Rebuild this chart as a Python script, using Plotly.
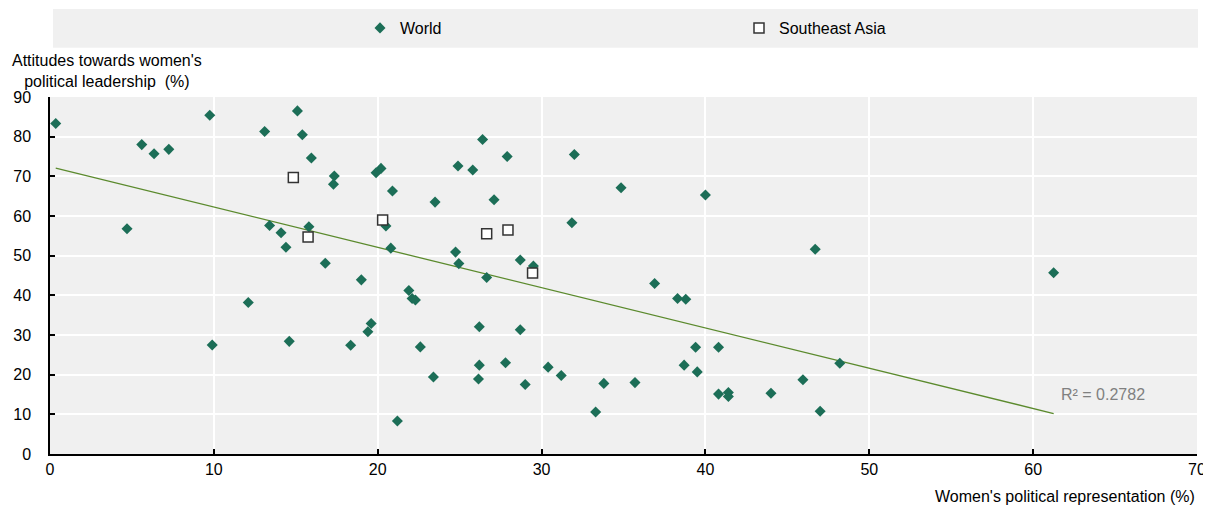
import numpy as np
import plotly.graph_objects as go

world_x = [0.35, 4.7, 5.6, 6.35, 7.25, 9.75, 9.9, 12.1, 13.1, 13.4, 14.1, 14.4, 14.6, 15.1, 15.4,
           15.8, 15.95, 16.8, 17.35, 17.3, 18.35, 19.0, 19.4, 19.6, 19.9, 20.2, 20.5, 20.8, 20.9,
           21.2, 21.9, 22.1, 22.3, 22.6, 23.4, 23.5, 24.75, 24.95, 24.9, 25.8, 26.2, 26.2, 26.15,
           26.4, 26.65, 27.1, 27.8, 27.9, 28.7, 28.7, 29.0, 29.5, 30.4, 31.2, 31.85, 32.0, 33.3,
           33.8, 34.85, 35.7, 36.9, 38.3, 38.8, 38.7, 39.4, 39.5, 40.0, 40.8, 40.8, 41.4, 41.4,
           44.0, 45.95, 46.7, 47.0, 48.2, 61.25]
world_y = [83.3, 56.8, 78.0, 75.7, 76.8, 85.4, 27.5, 38.2, 81.3, 57.6, 55.8, 52.1, 28.4, 86.5, 80.5,
           57.3, 74.6, 48.1, 70.1, 68.0, 27.4, 43.9, 30.8, 32.9, 70.9, 72.0, 57.5, 51.9, 66.3,
           8.3, 41.2, 39.2, 38.8, 27.0, 19.4, 63.5, 50.9, 48.0, 72.6, 71.6, 32.1, 22.4, 18.9,
           79.3, 44.5, 64.1, 23.0, 75.0, 48.9, 31.3, 17.5, 47.4, 21.9, 19.8, 58.3, 75.5, 10.6,
           17.8, 67.1, 18.0, 43.0, 39.2, 39.0, 22.4, 26.9, 20.7, 65.3, 26.9, 15.1, 15.5, 14.5,
           15.3, 18.7, 51.6, 10.8, 22.9, 45.7]

sea_x = [14.85, 15.75, 20.3, 26.65, 27.95, 29.45]
sea_y = [69.7, 54.7, 59.0, 55.5, 56.5, 45.6]

r2_label = "R² = 0.2782"

all_x = np.array(world_x + sea_x)
all_y = np.array(world_y + sea_y)
slope, intercept = np.polyfit(all_x, all_y, 1)
tx = np.array([min(world_x), max(world_x)])
ty = intercept + slope * tx

FONT = "Arial, Liberation Sans, sans-serif"

# the page adds an 8px body margin, so the figure is 8px smaller and plot area shifted
L, T, PW, PH = 42, 89, 1147, 357
W, H = 1203, 499

fig = go.Figure()
fig.add_trace(go.Scatter(x=tx, y=ty, mode="lines", line=dict(color="#5B8A2D", width=1.3),
                         showlegend=False, hoverinfo="skip"))
fig.add_trace(go.Scatter(x=world_x, y=world_y, mode="markers", name="World",
                         marker=dict(symbol="diamond", size=8.5, color="#1C6E57")))
fig.add_trace(go.Scatter(x=sea_x, y=sea_y, mode="markers", name="Southeast Asia",
                         marker=dict(symbol="square", size=10, color="white",
                                     line=dict(color="#333333", width=1.5))))

fig.add_shape(type="rect", xref="paper", yref="paper", x0=3 / PW, x1=1148 / PW,
              y0=1 + (97 - 47.7) / PH, y1=1 + (97 - 9) / PH,
              fillcolor="#F0F0F0", line=dict(width=0), layer="below")

fig.add_annotation(x=61.6, y=15.1, xref="x", yref="y", text=r2_label, showarrow=False,
                   xanchor="left", yanchor="middle", font=dict(size=16, color="#808080", family=FONT))
fig.add_annotation(x=(107 - 50) / PW, y=1 + (97 - 92) / PH, xref="paper", yref="paper",
                   text="Attitudes towards women's<br>political leadership  (%)", showarrow=False,
                   xanchor="center", yanchor="bottom", align="center",
                   font=dict(size=16, color="black", family=FONT))
fig.add_annotation(x=1, y=-(496 - 454) / PH, xref="paper", yref="paper",
                   text="Women's political representation (%)", showarrow=False,
                   xanchor="right", yanchor="middle", font=dict(size=16, color="black", family=FONT))

fig.update_layout(
    width=W, height=H,
    margin=dict(l=L, r=W - L - PW, t=T, b=H - T - PH, autoexpand=False),
    paper_bgcolor="white", plot_bgcolor="#F0F0F0",
    font=dict(family=FONT, size=16, color="black"),
    legend=dict(orientation="h", x=(360 - 50) / PW, xanchor="left",
                y=1 + (97 - 28) / PH, yanchor="middle", bgcolor="rgba(0,0,0,0)",
                entrywidth=334, entrywidthmode="pixels", font=dict(size=16, family=FONT)),
    xaxis=dict(range=[0, 70], dtick=10, tick0=0, showgrid=True, gridcolor="white", gridwidth=2,
               zeroline=False, showline=True, linecolor="black", linewidth=1.5,
               ticks="inside", ticklen=5, tickcolor="black", tickwidth=1.5, automargin=False,
               tickfont=dict(size=16, family=FONT)),
    yaxis=dict(range=[0, 90], dtick=10, tick0=0, showgrid=True, gridcolor="white", gridwidth=2,
               zeroline=False, showline=True, linecolor="black", linewidth=1.5,
               ticks="inside", ticklen=5, tickcolor="black", tickwidth=1.5, automargin=False,
               ticklabelstandoff=14, tickfont=dict(size=16, family=FONT)),
)

fig.write_html("out.html")
